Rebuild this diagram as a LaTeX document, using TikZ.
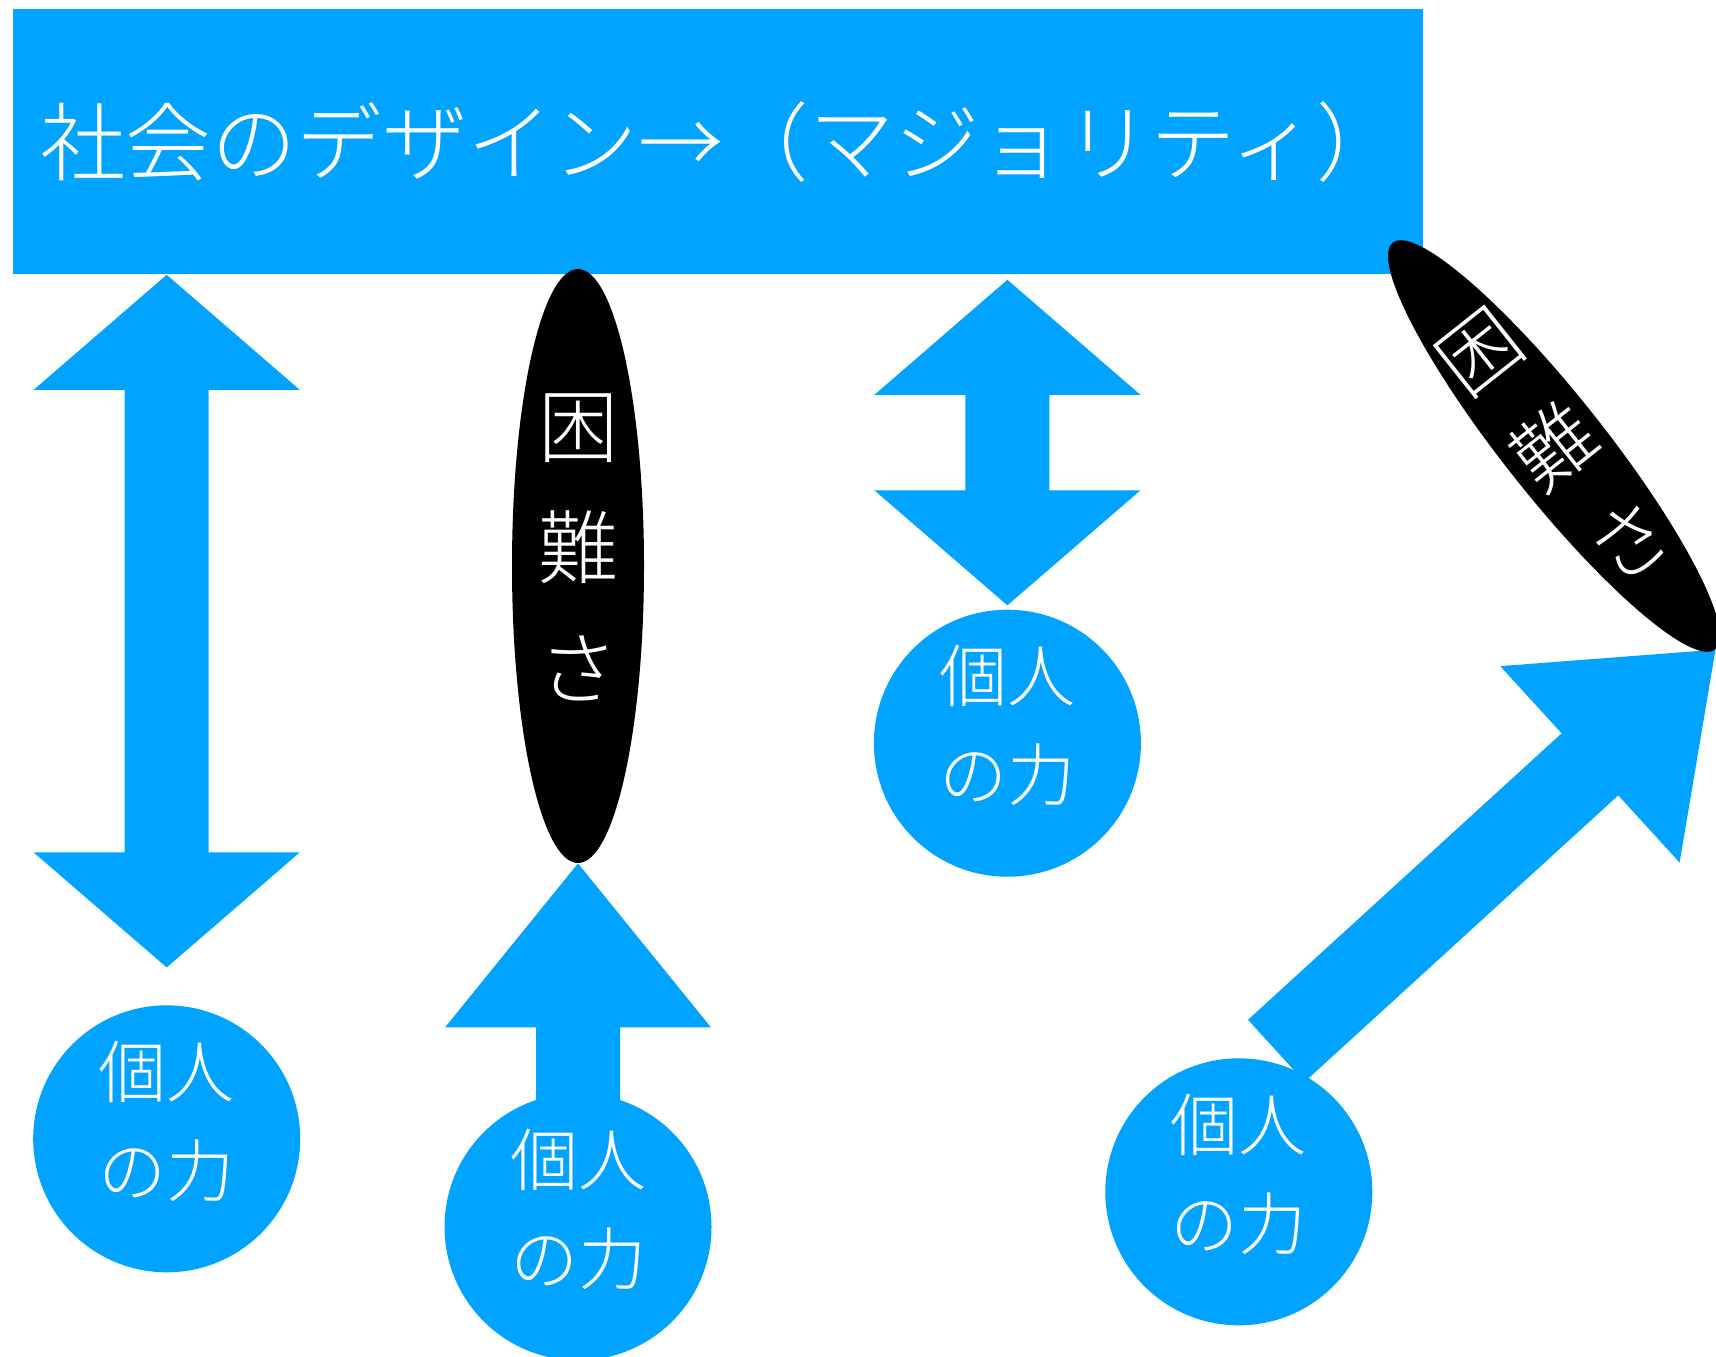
\documentclass[tikz,border=0pt]{standalone}
\usepackage{fontspec}
\IfFontExistsTF{Noto Sans CJK JP Light}{\setmainfont{Noto Sans CJK JP Light}}{\setmainfont{Noto Sans CJK JP}}
\usepackage{tikz}
\usetikzlibrary{calc,positioning,shapes.geometric,backgrounds}

\definecolor{keyblue}{RGB}{0,163,255}

\tikzset{
  society/.style={fill=keyblue, text=white, inner xsep=13.5pt, inner ysep=0pt, text width=678pt, minimum height=132.5pt, align=left, font=\fontsize{42.7}{50}\selectfont},
  power/.style={circle, fill=keyblue, text=white, minimum size=133.5pt, inner sep=0pt, align=center, text depth=20pt, font=\fontsize{34}{49.5}\selectfont},
  hardness/.style={ellipse, fill=black, inner sep=0pt},
  tate/.style={text=white, align=center, inner sep=0pt, font=\fontsize{40}{60.5}\selectfont}
}

% block arrows: [head length] {tail} {tip}
\newcommand{\fatarrow}[3][57.5pt]{%
  \path ($(#3)!#1!(#2)$) coordinate (hb);
  \fill[keyblue] ($(#2)!21pt!90:(#3)$) -- ($(hb)!21pt!90:(#3)$) -- ($(hb)!66.5pt!90:(#3)$) -- (#3)
    -- ($(hb)!66.5pt!-90:(#3)$) -- ($(hb)!21pt!-90:(#3)$) -- ($(#2)!21pt!-90:(#3)$) -- cycle;
}
\newcommand{\fatdarrow}[3][57.5pt]{%
  \path ($(#2)!#1!(#3)$) coordinate (ha) ($(#3)!#1!(#2)$) coordinate (hb);
  \fill[keyblue] (#2) -- ($(ha)!66.5pt!90:(#3)$) -- ($(ha)!21pt!90:(#3)$) -- ($(hb)!21pt!90:(#3)$) -- ($(hb)!66.5pt!90:(#3)$) -- (#3)
    -- ($(hb)!66.5pt!-90:(#3)$) -- ($(hb)!21pt!-90:(#3)$) -- ($(ha)!21pt!-90:(#3)$) -- ($(ha)!66.5pt!-90:(#3)$) -- cycle;
}

\begin{document}
\begin{tikzpicture}[x=0.5pt, y=-0.5pt]

  \useasboundingbox (0,0) rectangle (1716,1356);

  % Society
  \node[society, anchor=north west] (design) at (13,9) {社会のデザイン→（マジョリティ）};

 % Difficulty

	\node[hardness, minimum width=66pt, minimum height=297pt] (hardM) at (578,566) {};
	\node[tate] (hardMtext) at ([yshift=9.5pt]hardM.center) {困\\難\\さ};

	\node[hardness, minimum width=50.5pt, minimum height=259.5pt, rotate=38.4] (hardR) at (1554,446) {};
	\node[tate, rotate=38.4] (hardRtext) at (hardR.center) {困\\難\\さ};

% Individual power

	\node[power, below=114.75pt of hardM] (c2) {個人\\の力};
	\node[power, left=71.75pt of c2, yshift=44pt] (c1) {個人\\の力};
	\node[power, right=196.5pt of c2, yshift=17.5pt] (c4) {個人\\の力};
	\node[power, below=167.25pt of design, xshift=144.5pt] (c3) {個人\\の力};

% Arrow ends

	\coordinate (t1) at (design.south -| c1);
	\coordinate (b1) at ([yshift=18.75pt]c1.north);
	\coordinate (t3) at ($(design.south -| c3)+(0,-2.5pt)$);
	\coordinate (b3) at ([yshift=2pt]c3.north);
	\coordinate (tail4) at ([shift={(18.75pt,70.5pt)}]c4);

% Arrows

  \begin{pgfonlayer}{background}
	\fatdarrow{t1}{b1}
	\fatdarrow{t3}{b3}
	\fatarrow[82pt]{c2}{hardM.south}
	\fatarrow[85pt]{tail4}{hardR.south}
  \end{pgfonlayer}

\end{tikzpicture}
\end{document}
